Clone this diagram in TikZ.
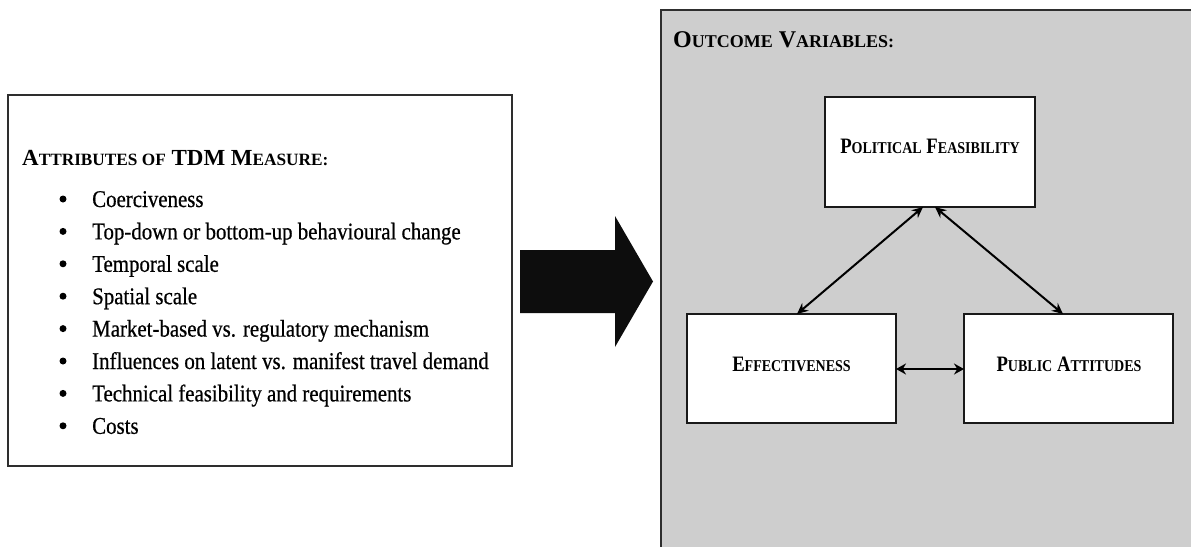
\documentclass[tikz,border=0pt]{standalone}
\usepackage{fontspec}
\usepackage{graphicx}
\setmainfont{Liberation Serif}
\newfontfamily\itemfont{Liberation Serif}[FakeStretch=0.87,FakeBold=0.6]
\newfontfamily\lblfont{Liberation Serif}[FakeStretch=0.85]
\usetikzlibrary{arrows.meta}
\definecolor{panelgray}{HTML}{CECECE}
\definecolor{edgegray}{HTML}{2E2E2E}
\newcommand\smc[1]{\scalebox{0.75}{#1}}
\begin{document}
\begin{tikzpicture}[x=1pt,y=-1pt,
  panel/.style={draw=edgegray, line width=1.4pt, inner sep=0pt, outer sep=0pt},
  vbox/.style={draw=black!90, fill=white, line width=1.3pt, inner sep=0pt, outer sep=0pt},
  heading/.style={anchor=base west, inner sep=0pt, font=\fontsize{23}{23}\selectfont\bfseries},
  itemtext/.style={anchor=base west, inner sep=0pt, font=\itemfont\fontsize{24}{24}\selectfont},
  bul/.style={circle, fill=black, minimum size=7pt, inner sep=0pt},
  lbl/.style={anchor=base, inner sep=0pt, font=\lblfont\bfseries\fontsize{22}{22}\selectfont},
  conn/.style={line width=2pt, {Stealth[length=11pt,width=10pt]}-{Stealth[length=11pt,width=10pt]}},
  hconn/.style={line width=2.6pt, {Stealth[length=10pt,width=11pt]}-{Stealth[length=10pt,width=11pt]}}
]
\useasboundingbox (0,0) rectangle (1191,546);
\fill[white] (0,0) rectangle (1191,546);
\begin{scope}
\clip (0,0) rectangle (1191,546);
% right grey panel
\node[panel, fill=panelgray, minimum width=560pt, minimum height=560pt, anchor=north west] (outcome) at (661,10) {};
\end{scope}
\node[heading, font=\fontsize{24}{24}\selectfont\bfseries] (outtitle) at (673,47) {O\smc{UTCOME} V\smc{ARIABLES:}};

% left panel
\node[panel, fill=white, minimum width=504pt, minimum height=371pt, anchor=north west] (attr) at (8,95) {};
\node[heading] (attrtitle) at (22,165) {A\smc{TTRIBUTES OF} TDM M\smc{EASURE:}};

\foreach \i/\t in {0/Coerciveness,
                   1/Top-down or bottom-up behavioural change,
                   2/Temporal scale,
                   3/Spatial scale,
                   4/Market-based vs. regulatory mechanism,
                   5/Influences on latent vs. manifest travel demand,
                   6/Technical feasibility and requirements,
                   7/Costs}{
  \node[bul] (b\i) at (63,{199+32.4*\i}) {};
  \node[itemtext] (it\i) at (92,{207+32.4*\i}) {\t};
}

% block arrow
\fill[black!95] (520,250) -- (615,250) -- (615,216) -- (653,281.5) -- (615,347) -- (615,313) -- (520,313) -- cycle;

% outcome boxes
\node[vbox, minimum width=210pt, minimum height=110pt, anchor=north west] (pf) at (825,97) {};
\node[vbox, minimum width=209pt, minimum height=109pt, anchor=north west] (eff) at (687,314) {};
\node[vbox, minimum width=209pt, minimum height=109pt, anchor=north west] (pa) at (964,314) {};

\node[lbl] (pflbl) at (930,153) {P\smc{OLITICAL} F\smc{EASIBILITY}};
\node[lbl] (efflbl) at (791.5,371) {E\smc{FFECTIVENESS}};
\node[lbl] (palbl) at (1069,371) {P\smc{UBLIC} A\smc{TTITUDES}};

% connectors
\draw[conn] ([xshift=-7pt]pf.south) -- ([xshift=5.5pt]eff.north);
\draw[conn] ([xshift=5pt]pf.south) -- ([xshift=-5.5pt]pa.north);
\draw[hconn] ([yshift=-0.5pt]eff.east) -- ([yshift=-0.5pt]pa.west);
\end{tikzpicture}
\end{document}
